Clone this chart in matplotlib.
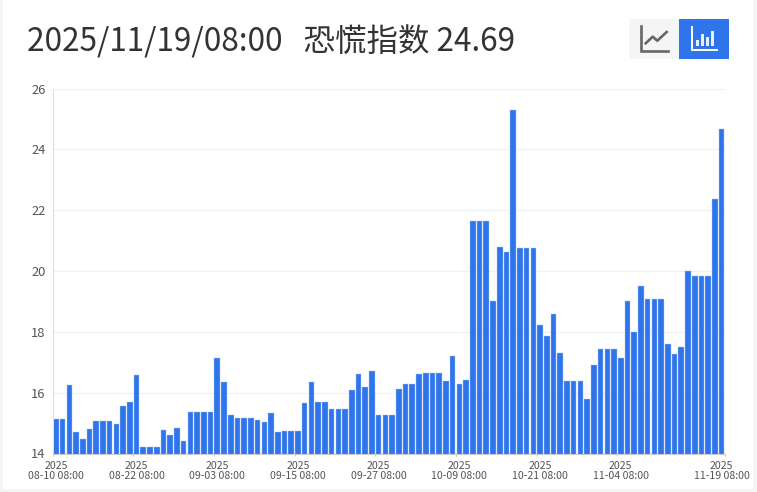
import matplotlib
matplotlib.use('Agg')
import matplotlib.pyplot as plt
from matplotlib.patches import Rectangle

plt.rcParams['font.family'] = ['Noto Sans CJK SC', 'DejaVu Sans']

# values, one bar per entry
fear_index = [15.15, 15.15, 16.25, 14.72, 14.48, 14.82, 15.07, 15.07, 15.07, 14.97,
              15.57, 15.68, 16.58, 14.2, 14.2, 14.2, 14.77, 14.6, 14.83, 14.42,
              15.35, 15.35, 15.35, 15.35, 17.15, 16.35, 15.28, 15.17, 15.17, 15.17,
              15.1, 15.05, 15.33, 14.7, 14.73, 14.73, 14.73, 15.67, 16.35, 15.7,
              15.68, 15.45, 15.45, 15.45, 16.1, 16.62, 16.17, 16.72, 15.27, 15.27,
              15.27, 16.13, 16.27, 16.27, 16.62, 16.65, 16.65, 16.65, 16.37, 17.22,
              16.28, 16.42, 21.65, 21.65, 21.65, 19.02, 20.8, 20.63, 25.3, 20.77,
              20.77, 20.77, 18.23, 17.87, 18.58, 17.3, 16.37, 16.37, 16.37, 15.78,
              16.9, 17.42, 17.42, 17.42, 17.15, 19.0, 18.0, 19.5, 19.07, 19.07,
              19.07, 17.6, 17.27, 17.5, 20.0, 19.82, 19.82, 19.82, 22.38, 24.68]
tick_idx = [0, 12, 24, 36, 48, 60, 72, 84, 99]
tick_labels = ['2025\n08-10 08:00', '2025\n08-22 08:00', '2025\n09-03 08:00',
               '2025\n09-15 08:00', '2025\n09-27 08:00', '2025\n10-09 08:00',
               '2025\n10-21 08:00', '2025\n11-04 08:00', '2025\n11-19 08:00']
y_ticks = [14, 16, 18, 20, 22, 24, 26]

W, H = 757, 492
BLUE = '#2f74ea'

fig = plt.figure(figsize=(W / 100, H / 100), dpi=100, facecolor='#f5f5f5')

# white card + title + the two toggle buttons, in pixel coordinates
bg = fig.add_axes([0, 0, 1, 1])
bg.set_xlim(0, W)
bg.set_ylim(H, 0)
bg.axis('off')
bg.add_patch(Rectangle((3, 0), 750, 489, color='white', lw=0))
bg.text(27, 41.5, '2025/11/19/08:00   恐慌指数 24.69', fontsize=22.7, color='#333333',
        va='center', ha='left')

bg.add_patch(Rectangle((629, 19), 50, 40, color='#f4f5f7', lw=0))
bg.add_patch(Rectangle((679, 19), 50, 40, color=BLUE, lw=0))
bg.plot([641.3, 641.3, 668], [26, 50.8, 50.8], color='#666666', lw=1.9, solid_joinstyle='miter')
bg.plot([645.7, 652.7, 657.3, 666.7], [43.3, 36.7, 40.7, 32], color='#666666', lw=1.9)
bg.plot([691.7, 691.7, 717], [27, 49.8, 49.8], color='white', lw=1.4, solid_joinstyle='miter')
for x0, top in [(696, 40), (701, 34), (706, 37), (711, 31)]:
    bg.add_patch(Rectangle((x0, top), 2.8, 45.5 - top, color='white', lw=0, alpha=0.9))

# chart axes
ax = fig.add_axes([52.5 / W, 1 - 453.5 / H, 672.5 / W, 365 / H], facecolor='none')
ax.set_axisbelow(True)
ax.bar([i + 0.5 for i in range(len(fear_index))], fear_index, width=0.83, color=BLUE,
       edgecolor='#a9c6f6', linewidth=0.3)
ax.set_xlim(0, 100)
ax.set_ylim(14, 26)
ax.set_yticks(y_ticks)
ax.tick_params(axis='y', length=0, labelsize=9.3, labelcolor='#555555', pad=5)
ax.grid(axis='y', color='#f1f1f1', lw=1)

# ticks sit on the band edge, labels on the band centre
ax.set_xticks([i + 0.5 for i in tick_idx])
ax.set_xticklabels(tick_labels, fontsize=7.6, color='#555555', linespacing=0.95)
ax.tick_params(axis='x', length=0, pad=5.5)
ax.set_xticks(tick_idx[:-1] + [100], minor=True)
ax.tick_params(axis='x', which='minor', length=1.5, color='#cccccc', width=0.8)

for s in ['top', 'right']:
    ax.spines[s].set_visible(False)
ax.spines['left'].set_color('#e0e0e0')
ax.spines['bottom'].set_color('#cccccc')
ax.spines['left'].set_linewidth(0.8)
ax.spines['bottom'].set_linewidth(0.8)

fig.savefig('out.png', dpi=100, facecolor=fig.get_facecolor())
